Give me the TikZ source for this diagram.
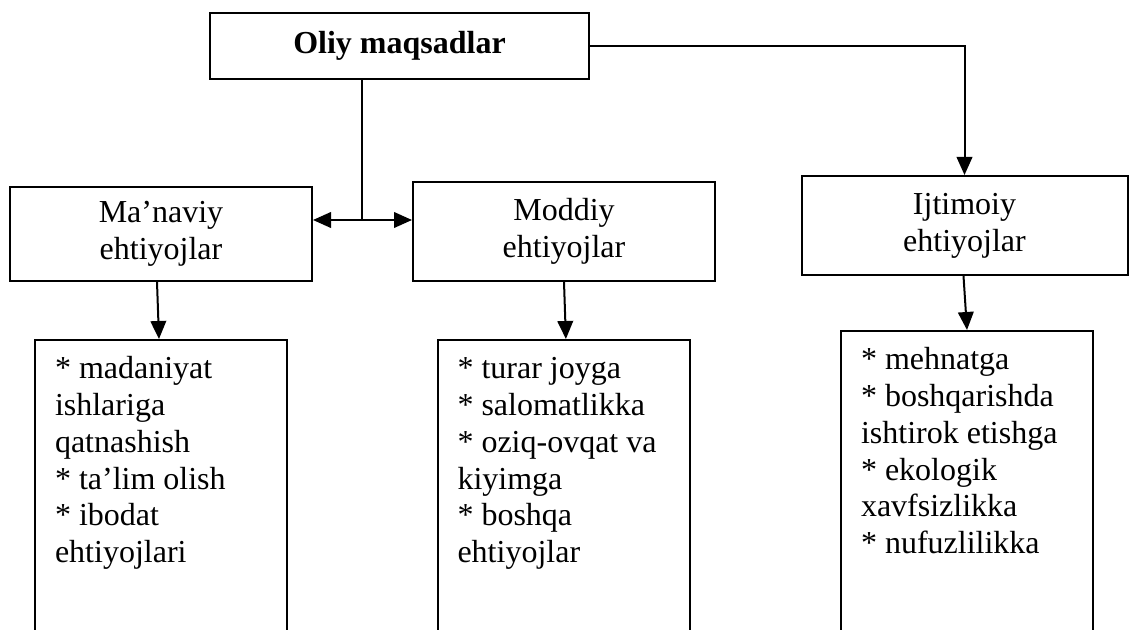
\documentclass[tikz,border=0pt]{standalone}
\usepackage{fontspec}
\setmainfont{Liberation Serif}
\usetikzlibrary{arrows.meta,calc}
\begin{document}
\begin{tikzpicture}[x=0.5pt,y=-0.5pt,
  txt/.style={font=\fontsize{16}{18.4}\selectfont},
  box/.style={draw, line width=1pt, align=center, inner sep=0pt, txt},
  listbox/.style={draw, line width=1pt, anchor=north, inner xsep=10pt, inner ysep=6.5pt, txt},
  conn/.style={line width=1pt},
  arr/.style={conn, -{Triangle[length=9pt,width=7.8pt]}},
  dblarr/.style={conn, {Triangle[length=9pt,width=7.8pt]}-{Triangle[length=9pt,width=7.8pt]}},
  ]
\useasboundingbox (0,0) rectangle (1129,630);
\clip (0,0) rectangle (1129,630);
\fill[white] (0,0) rectangle (1129,630);

\node[box, font=\bfseries\fontsize{16}{18.4}\selectfont, minimum width=189.5pt, minimum height=33pt] (top) at (399.5,46) {Oliy maqsadlar};

\node[box, minimum width=151pt, minimum height=47pt] (m1) at (161,234) {Ma’naviy\\ehtiyojlar};
\node[box, minimum width=151pt, minimum height=49.5pt] (m2) at (564,231.5) {Moddiy\\ehtiyojlar};
\node[box, minimum width=163pt, minimum height=49.5pt] (m3) at (964.5,225.5) {Ijtimoiy\\ehtiyojlar};

\node[listbox] (b1) at (161,339) {\parbox[t][200pt][t]{106pt}{\raggedright\strut * madaniyat\newline ishlariga\newline qatnashish\newline * ta’lim olish\newline * ibodat\newline ehtiyojlari}};
\node[listbox] (b2) at (563.5,339) {\parbox[t][200pt][t]{106pt}{\raggedright\strut * turar joyga\newline * salomatlikka\newline * oziq-ovqat va\newline kiyimga\newline * boshqa\newline ehtiyojlar}};
\node[listbox] (b3) at (967,330) {\parbox[t][200pt][t]{106pt}{\raggedright\strut * mehnatga\newline * boshqarishda\newline ishtirok etishga\newline * ekologik\newline xavfsizlikka\newline * nufuzlilikka}};

\coordinate (j) at (362,220);
\draw[conn] (top.south -| j) -- (j);
\draw[dblarr] (m1.east |- j) -- (m2.west |- j);
\draw[arr] (top.east) -| (m3.north);
\draw[arr] ([xshift=-2pt]m1.south) -- ([xshift=-1pt]b1.north);
\draw[arr] (m2.south) -- ([xshift=1.2pt]b2.north);
\draw[arr] ([xshift=-0.5pt]m3.south) -- (b3.north);
\end{tikzpicture}
\end{document}
